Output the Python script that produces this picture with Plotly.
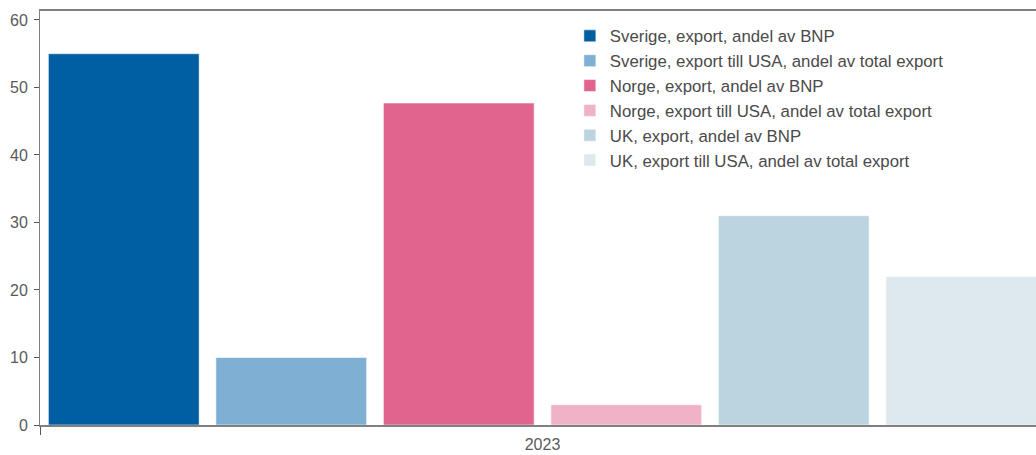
import plotly.graph_objects as go

# Export figures for 2023 (percent)
years = ["2023"]
series_names = [
    "Sverige, export, andel av BNP",
    "Sverige, export till USA, andel av total export",
    "Norge, export, andel av BNP",
    "Norge, export till USA, andel av total export",
    "UK, export, andel av BNP",
    "UK, export till USA, andel av total export",
]
series_values = [55.0, 10.0, 47.7, 3.0, 31.0, 22.0]
series_colors = ["#005EA3", "#7FAFD3", "#E0648E", "#EFB2C7", "#BCD4E0", "#DEE8EF"]
y_ticks = [0, 10, 20, 30, 40, 50, 60]

fig = go.Figure()
for i, (name, val, col) in enumerate(zip(series_names, series_values, series_colors)):
    fig.add_trace(go.Bar(
        x=years,
        y=[val],
        name=name,
        legendgroup=f"g{i}",
        marker=dict(color=col, line=dict(color="rgba(255,255,255,0.55)", width=1)),
        hoverinfo="skip",
    ))

fig.update_layout(
    width=1036,
    height=455,
    margin=dict(l=40, r=0, t=11, b=30),
    paper_bgcolor="white",
    plot_bgcolor="white",
    barmode="group",
    bargap=0,
    bargroupgap=0.1,
    font=dict(family="Liberation Sans, Arial, sans-serif", size=16, color="#5a5a5a"),
    legend=dict(
        x=0.532, y=0.982, xanchor="left", yanchor="top",
        xref="paper", yref="paper",
        bgcolor="rgba(0,0,0,0)",
        font=dict(size=16.8, color="#4a4a4a"),
        tracegroupgap=0,
        itemclick=False, itemdoubleclick=False,
    ),
    showlegend=True,
)

fig.update_xaxes(
    type="category",
    range=[-0.5, 0.491],
    showgrid=False,
    showline=True, linecolor="#808080", linewidth=1.5,
    mirror=True,
    ticks="outside", tickson="boundaries", ticklen=8, tickcolor="#555555",
    tickfont=dict(size=16, color="#5a5a5a"),
    ticklabelstandoff=4,
)
fig.update_yaxes(
    range=[0, 61.33],
    tickvals=y_ticks,
    showgrid=False,
    zeroline=False,
    showline=True, linecolor="#808080", linewidth=1,
    ticks="outside", ticklen=5, tickcolor="#555555",
    tickfont=dict(size=16, color="#5a5a5a"),
    ticklabelstandoff=3,
)

fig.write_html("out.html", config={"displayModeBar": False})
